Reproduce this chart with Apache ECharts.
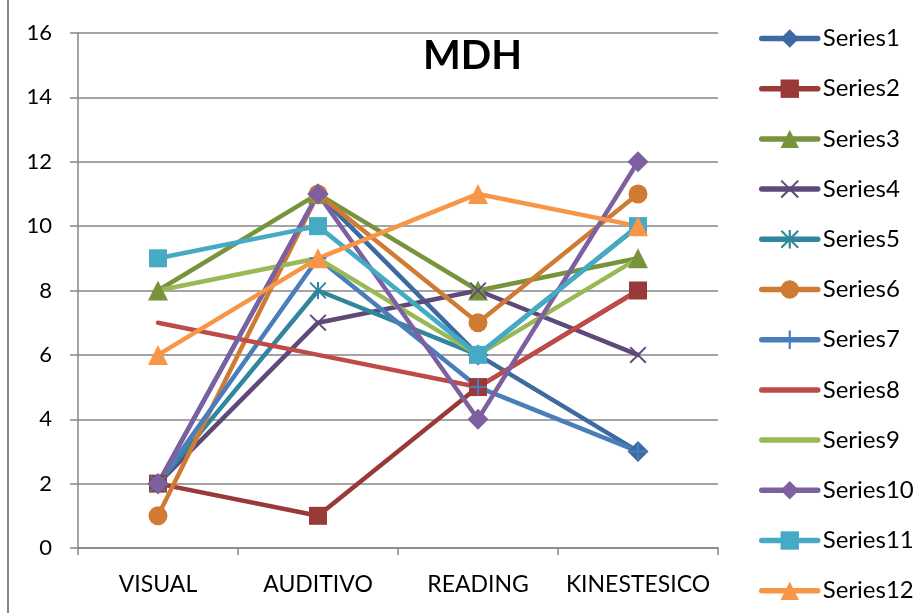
<!DOCTYPE html>
<html>
<head>
<meta charset="utf-8">
<script src="https://cdn.jsdelivr.net/npm/echarts@6/dist/echarts.min.js"></script>
<style>
html,body{margin:0;padding:0;background:#fff;}
#chart{width:922px;height:613px;}
</style>
</head>
<body>
<div id="chart"></div>
<script>
var categories = ['VISUAL', 'AUDITIVO', 'READING', 'KINESTESICO'];
var seriesNames = ['Series1','Series2','Series3','Series4','Series5','Series6','Series7','Series8','Series9','Series10','Series11','Series12'];
var s1 = [2, 11, 6, 3];
var s2 = [2, 1, 5, 8];
var s3 = [8, 11, 8, 9];
var s4 = [2, 7, 8, 6];
var s5 = [2, 8, 6, 10];
var s6 = [1, 11, 7, 11];
var s7 = [2, 9, 5, 3];
var s8 = [7, 6, 5, 8];
var s9 = [8, 9, 6, 9];
var s10 = [2, 11, 4, 12];
var s11 = [9, 10, 6, 10];
var s12 = [6, 9, 11, 10];
var yTicks = [0, 2, 4, 6, 8, 10, 12, 14, 16];
var titleText = 'MDH';

var allData = [s1, s2, s3, s4, s5, s6, s7, s8, s9, s10, s11, s12];
var colors = ['#3D6AA1','#9A3A38','#77933C','#5F497A','#31859C','#D07B34','#4A7EBB','#BE4B48','#98B954','#7D60A0','#46AAC5','#F79646'];
var xPath = 'path://M0,0.8 L0.8,0 L5,4.2 L9.2,0 L10,0.8 L5.8,5 L10,9.2 L9.2,10 L5,5.8 L0.8,10 L0,9.2 L4.2,5 Z';
var plusPath = 'path://M4.4,0 L5.6,0 L5.6,4.4 L10,4.4 L10,5.6 L5.6,5.6 L5.6,10 L4.4,10 L4.4,5.6 L0,5.6 L0,4.4 L4.4,4.4 Z';
var starPath = 'path://M0,0.8 L0.8,0 L5,4.2 L9.2,0 L10,0.8 L5.8,5 L10,9.2 L9.2,10 L5,5.8 L0.8,10 L0,9.2 L4.2,5 Z M4.4,0 L5.6,0 L5.6,10 L4.4,10 Z';
var symbols = ['diamond','rect','triangle',xPath,starPath,'circle',plusPath,'none','none','diamond','rect','triangle'];
var sizes = [21, 18, 20, 17, 17, 19, 17, 0, 0, 21, 18, 20];

var FONT = 'Lato';
var chart = echarts.init(document.getElementById('chart'), null, {renderer: 'canvas'});

var series = allData.map(function (d, i) {
  return {
    name: seriesNames[i],
    type: 'line',
    data: d,
    symbol: symbols[i],
    symbolSize: sizes[i],
    showSymbol: symbols[i] !== 'none',
    animation: false,
    lineStyle: {width: 4.5, color: colors[i], cap: 'round', join: 'round'},
    itemStyle: {color: colors[i]},
    emphasis: {disabled: true}
  };
});

var legends = seriesNames.map(function (n, i) {
  var item = {name: n};
  if (symbols[i] === 'none') {
    item.itemStyle = {opacity: 0};
  }
  return {
    orient: 'vertical',
    left: 759,
    top: 26.5 + i * 50.2,
    padding: 0,
    itemWidth: 56,
    itemHeight: 23,
    data: [item],
    lineStyle: {width: 5.5, cap: 'round'},
    textStyle: {fontFamily: FONT, fontSize: 24, color: '#000'}
  };
});

chart.setOption({
  animation: false,
  color: colors,
  title: {
    text: titleText,
    left: 418,
    top: 31,
    textStyle: {fontFamily: FONT, fontWeight: 'bold', fontSize: 40, color: '#000'}
  },
  grid: {left: 78, right: 204, top: 33, bottom: 65, containLabel: false},
  legend: legends,
  xAxis: {
    type: 'category',
    data: categories,
    boundaryGap: true,
    axisLine: {lineStyle: {color: '#868686', width: 1.5}},
    axisTick: {show: true, length: 7, lineStyle: {color: '#868686', width: 1.5}},
    axisLabel: {fontFamily: FONT, fontSize: 23, color: '#000', margin: 25, interval: 0}
  },
  yAxis: {
    type: 'value',
    min: yTicks[0],
    max: yTicks[yTicks.length - 1],
    interval: 2,
    axisLine: {show: true, lineStyle: {color: '#868686', width: 1.5}},
    axisTick: {show: true, length: 8, lineStyle: {color: '#868686', width: 1.5}},
    splitLine: {lineStyle: {color: '#868686', width: 1.5}},
    axisLabel: {fontFamily: FONT, fontSize: 22, color: '#000', margin: 26}
  },
  graphic: [{
    type: 'line',
    shape: {x1: 8, y1: 0, x2: 8, y2: 613},
    style: {stroke: '#868686', lineWidth: 2}
  }],
  series: series
});
</script>
</body>
</html>
